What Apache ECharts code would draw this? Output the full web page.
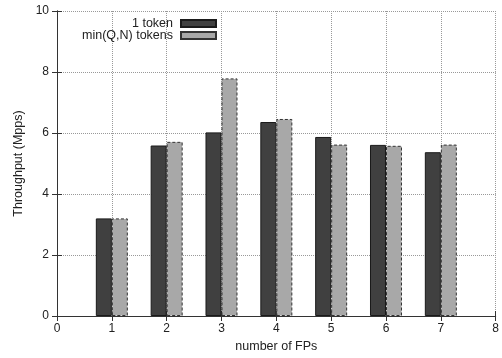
<!DOCTYPE html>
<html><head><meta charset="utf-8">
<script src="https://cdn.jsdelivr.net/npm/echarts@6/dist/echarts.min.js"></script>
<style>html,body{margin:0;padding:0;background:#fff}#c{width:502px;height:358px}</style>
</head><body><div id="c"></div>
<script>
const fps = [1, 2, 3, 4, 5, 6, 7];
const oneToken = [3.20, 5.59, 6.02, 6.36, 5.87, 5.61, 5.37];
const minQNTokens = [3.20, 5.71, 7.79, 6.46, 5.62, 5.58, 5.62];
const seriesNames = ['1 token', 'min(Q,N) tokens'];

const chart = echarts.init(document.getElementById('c'));
const font = 'Liberation Sans, Arial, Helvetica, sans-serif';
const axisCommon = {
  axisLine: {show: true, lineStyle: {color: '#333', width: 1}},
  axisTick: {show: true, inside: true, length: 5, lineStyle: {color: '#333'}},
};
chart.setOption({
  animation: false,
  textStyle: {fontFamily: font},
  grid: {left: 57, right: 6, top: 11, bottom: 42, show: false},
  legend: {
    orient: 'vertical', right: 280, top: 12, align: 'right', icon: 'rect',
    itemWidth: 35, itemHeight: 7, itemGap: -1,
    textStyle: {fontFamily: font, fontSize: 12.5, color: '#222', lineHeight: 12, padding: [0,3,0,0]},
    data: seriesNames
  },
  xAxis: [{
    type: 'value', min: 0, max: 8, interval: 1,
    name: 'number of FPs', nameLocation: 'middle', nameGap: 23,
    nameTextStyle: {fontFamily: font, fontSize: 12.5, color: '#222'},
    axisLabel: {fontFamily: font, fontSize: 12, color: '#222', margin: 7},
    splitLine: {show: true, lineStyle: {type: [1, 1], color: '#999', width: 1}},
    ...axisCommon
  }, {
    type: 'value', min: 0, max: 8, interval: 1, position: 'top',
    axisLabel: {show: false}, splitLine: {show: false},
    ...axisCommon
  }],
  yAxis: [{
    type: 'value', min: 0, max: 10, interval: 2,
    name: 'Throughput (Mpps)', nameLocation: 'middle', nameGap: 30,
    nameTextStyle: {fontFamily: font, fontSize: 12.5, color: '#222'},
    axisLabel: {fontFamily: font, fontSize: 12, color: '#222', margin: 8},
    splitLine: {show: true, lineStyle: {type: [1, 1], color: '#999', width: 1}},
    ...axisCommon
  }, {
    type: 'value', min: 0, max: 10, interval: 2, position: 'right',
    axisLabel: {show: false}, splitLine: {show: false},
    ...axisCommon
  }],
  series: [{
    name: seriesNames[0], type: 'bar', barWidth: 16, barGap: '0%',
    data: fps.map((x, i) => [x, oneToken[i]]),
    itemStyle: {color: '#404040', borderColor: '#1a1a1a', borderWidth: 1}
  }, {
    name: seriesNames[1], type: 'bar', barWidth: 16, barGap: '0%',
    data: fps.map((x, i) => [x, minQNTokens[i]]),
    itemStyle: {color: '#a8a8a8', borderColor: '#333', borderWidth: 1, borderType: [3, 2]}
  }]
});
</script></body></html>
